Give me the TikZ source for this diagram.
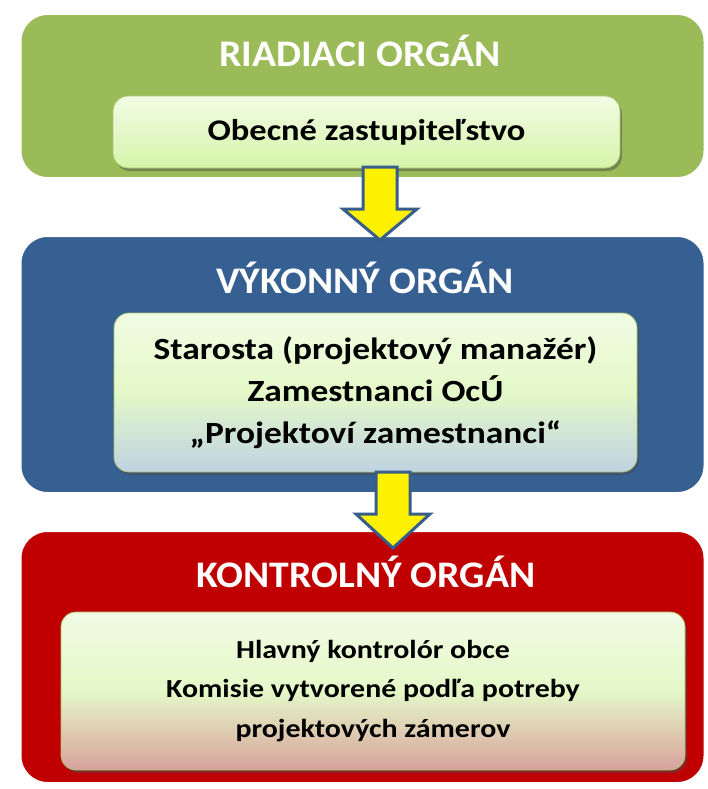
\documentclass[tikz,border=0pt]{standalone}
\usepackage{fontspec}
\setmainfont{Carlito}
\newfontfamily\nadpisfont[FakeStretch=1.06]{Carlito}
\newfontfamily\clenfont[FakeStretch=1.15]{Carlito}
\usetikzlibrary{shadows,calc}

\definecolor{riadiacizelena}{HTML}{9BBB59}
\definecolor{vykonnamodra}{HTML}{366092}
\definecolor{kontrolnacervena}{HTML}{C00000}
\definecolor{sipkaokraj}{HTML}{385D8A}
\definecolor{vnutrohore}{HTML}{F1FCE4}
\definecolor{vnutrostred}{HTML}{E4F8C8}
\definecolor{vnutrolem}{HTML}{A8C46E}
\definecolor{dnozelena}{HTML}{D6F4A8}
\definecolor{dnomodra}{HTML}{BFD2E2}
\definecolor{dnocervena}{HTML}{D8A29C}

\begin{document}
\begin{tikzpicture}[x=1pt,y=-1pt,
    organ/.style={rounded corners=30pt, draw=white, line width=8pt,
        drop shadow={shadow xshift=1pt, shadow yshift=-3pt, opacity=0.3, fill=gray}},
    clenovia/.style={rounded corners=15pt, draw=vnutrolem, line width=0.8pt,
        align=center, inner sep=0pt,
        font=\clenfont\fontsize{30}{41.5}\selectfont\bfseries,
        drop shadow={shadow xshift=2pt, shadow yshift=-3pt, opacity=0.5, fill=black!70}},
    nadpis/.style={anchor=base, text=white, inner sep=0pt,
        font=\nadpisfont\fontsize{37.5}{40}\selectfont\bfseries},
    blokova/.style={fill=yellow, draw=sipkaokraj, line width=3pt, line join=miter}]

    \useasboundingbox[fill=white] (0,0) rectangle (708,789);

    % Organy
    \node[organ, fill=riadiacizelena, minimum width=690pt, minimum height=170pt] (riadiaci) at (362.5,96) {};
    \node[organ, fill=vykonnamodra, minimum width=690pt, minimum height=263pt] (vykonny) at (362.5,364.5) {};
    \node[organ, fill=kontrolnacervena, minimum width=690pt, minimum height=258pt] (kontrolny) at (362.5,657) {};

    % Nadpisy
    \node[nadpis] (nriadiaci) at (360,67) {RIADIACI ORGÁN};
    \node[nadpis] (nvykonny) at (365,293) {VÝKONNÝ ORGÁN};
    \node[nadpis] (nkontrolny) at (366,587) {KONTROLNÝ ORGÁN};

    % Vnutorne boxy
    \node[clenovia, minimum width=507pt, minimum height=72pt,
        top color=vnutrohore, bottom color=dnozelena, middle color=vnutrostred] (zastupitelstvo) at (366.5,132)
        {Obecné zastupiteľstvo};
    \node[clenovia, minimum width=523pt, minimum height=159pt,
        font=\clenfont\fontsize{30.8}{42}\selectfont\bfseries,
        top color=vnutrohore, bottom color=dnomodra, middle color=vnutrostred] (starosta) at (375.5,392.5)
        {Starosta (projektový manažér)\\Zamestnanci OcÚ\\„Projektoví zamestnanci“};
    \node[clenovia, minimum width=624pt, minimum height=158pt,
        font=\clenfont\fontsize{26}{39.5}\selectfont\bfseries,
        top color=vnutrohore, bottom color=dnocervena, middle color=vnutrostred] (kontrolor) at (373,691)
        {Hlavný kontrolór obce\\Komisie vytvorené podľa potreby\\projektových zámerov};

    % Sipky
    \coordinate (s1) at (380,167);
    \coordinate (s1hrot) at (380,240);
    \coordinate (s2) at (393,472);
    \coordinate (s2hrot) at (393,548);

    \draw[blokova] let \p1=(s1), \p2=(s1hrot) in
        (\x1-17pt,\y1) -- (\x1+17pt,\y1) -- (\x1+17pt,\y2+31pt) -- (\x1+37pt,\y2+31pt)
        -- (\x2,\y2) -- (\x1-37pt,\y2+31pt) -- (\x1-17pt,\y2+31pt) -- cycle;
    \draw[blokova] let \p1=(s2), \p2=(s2hrot) in
        (\x1-17pt,\y1) -- (\x1+17pt,\y1) -- (\x1+17pt,\y2+34pt) -- (\x1+37pt,\y2+34pt)
        -- (\x2,\y2) -- (\x1-37pt,\y2+34pt) -- (\x1-17pt,\y2+34pt) -- cycle;
\end{tikzpicture}
\end{document}
